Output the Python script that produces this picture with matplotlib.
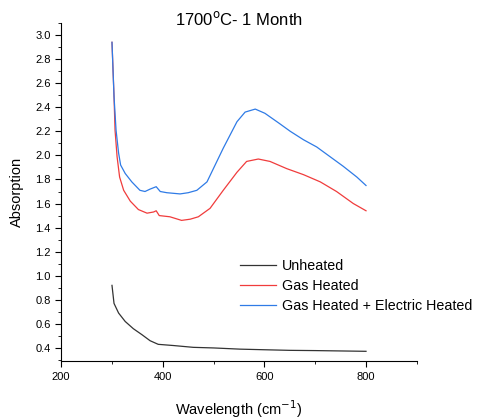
import numpy as np
import matplotlib.pyplot as plt

plt.rcParams['font.family'] = ['Liberation Sans', 'DejaVu Sans']

# wavelength / absorption
wl_unheated = [300, 304, 313, 326, 342, 359, 375, 391, 421, 460, 500, 552, 600, 650, 700, 750, 800]
ab_unheated = [0.92, 0.77, 0.69, 0.62, 0.56, 0.51, 0.46, 0.43, 0.42, 0.405, 0.40, 0.39,
               0.385, 0.38, 0.378, 0.375, 0.372]

wl_gas = [300, 304, 306, 310, 315, 323, 336, 352, 369, 382, 387, 393, 414, 437, 454,
          470, 493, 519, 546, 565, 588, 611, 644, 677, 710, 742, 775, 800]
ab_gas = [2.94, 2.49, 2.21, 1.99, 1.82, 1.71, 1.62, 1.55, 1.52, 1.53, 1.54, 1.50, 1.49,
          1.46, 1.47, 1.49, 1.56, 1.71, 1.86, 1.95, 1.97, 1.95, 1.89, 1.84, 1.78, 1.70,
          1.60, 1.54]

wl_elec = [300, 304, 308, 313, 317, 326, 339, 355, 365, 375, 387, 395, 408, 434, 450,
           467, 487, 495, 503, 519, 546, 562, 582, 601, 628, 651, 677, 703, 729, 755,
           782, 800]
ab_elec = [2.94, 2.49, 2.21, 2.02, 1.92, 1.85, 1.78, 1.71, 1.70, 1.72, 1.74, 1.70, 1.69,
           1.68, 1.69, 1.71, 1.78, 1.85, 1.92, 2.06, 2.28, 2.36, 2.385, 2.35, 2.27, 2.20,
           2.13, 2.07, 1.99, 1.91, 1.82, 1.75]

fig = plt.figure(figsize=(4.78, 4.19), dpi=100)
ax = fig.add_axes([0.128, 0.138, 0.744, 0.807])

ax.plot(wl_unheated, ab_unheated, color='#333333', lw=0.9, label='Unheated')
ax.plot(wl_gas, ab_gas, color='#f03c3c', lw=0.9, label='Gas Heated')
ax.plot(wl_elec, ab_elec, color='#2f7be6', lw=0.9, label='Gas Heated + Electric Heated')

ax.set_xlim(200, 900)
ax.set_ylim(0.29, 3.1)
ax.set_xticks([200, 400, 600, 800])
ax.set_xticks([300, 500, 700, 900], minor=True)
ax.set_yticks(np.arange(0.4, 3.01, 0.2))
ax.set_yticks(np.arange(0.3, 3.11, 0.1), minor=True)
ax.yaxis.set_major_formatter(plt.FormatStrFormatter('%.1f'))
ax.tick_params(axis='both', which='major', direction='out', length=4, labelsize=8)
ax.tick_params(axis='both', which='minor', direction='out', length=2.5)
for s in ['top', 'right']:
    ax.spines[s].set_visible(False)

ax.set_xlabel('Wavelength (cm$^{-1}$)', fontsize=10.5, labelpad=12)
ax.set_ylabel('Absorption', fontsize=10.5, labelpad=8)
fig.text(0.5, 0.955, '1700$^{\\mathrm{o}}$C- 1 Month', ha='center', va='center', fontsize=12)

ax.legend(loc='upper left', bbox_to_anchor=(0.487, 0.32), frameon=False,
          fontsize=10.3, handlelength=2.5, handletextpad=0.4, labelspacing=0.42,
          borderaxespad=0)

fig.savefig('out.png', dpi=100)
